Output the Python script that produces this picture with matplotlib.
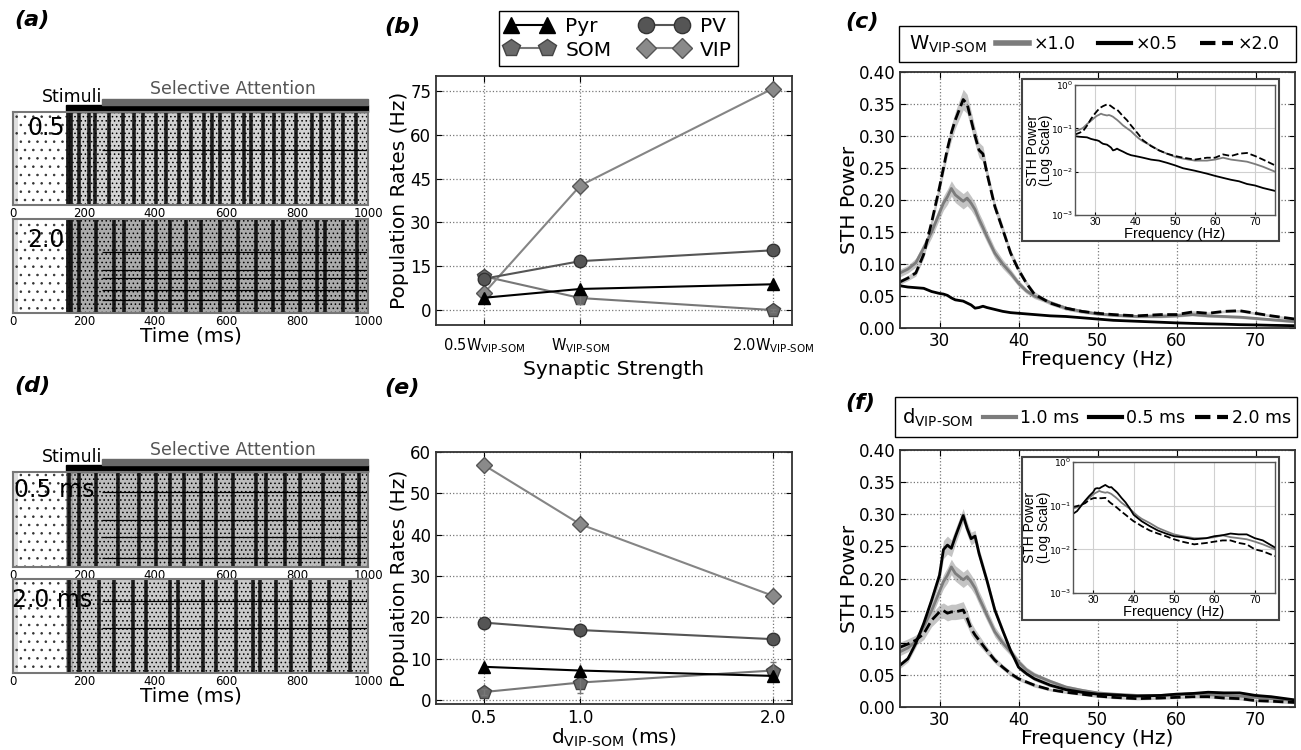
import matplotlib
matplotlib.use('Agg')
import numpy as np
import matplotlib.pyplot as plt
from matplotlib.lines import Line2D
from matplotlib.patches import Rectangle

plt.rcParams['font.family'] = ['DejaVu Sans']
plt.rcParams['mathtext.fontset'] = 'dejavusans'
plt.rcParams['hatch.linewidth'] = 0.6

W, H = 1301, 750

# ---- raster panels (a), (d): burst times (ms) and tonic rows
t_stim = 150
t_attn = 250
time_ticks = [0, 200, 400, 600, 800, 1000]
bursts_a05 = [155, 162, 185, 215, 232, 270, 309, 340, 367, 403, 431, 469, 500, 537,
              560, 582, 620, 650, 671, 704, 735, 761, 798, 841, 869, 900, 930, 965]
rows_a05 = [59]
bursts_a20 = [155, 163, 186, 233, 285, 313, 365, 403, 441, 488, 530, 582, 634, 685,
              732, 761, 808, 855, 878, 930, 970]
rows_a20 = [65, 46, 37, 24, 14]
bursts_d05 = [158, 186, 233, 295, 356, 403, 441, 483, 530, 572, 620, 685, 714, 765,
              808, 874, 930, 975]
rows_d05 = [79, 49, 32, 9]
bursts_d20 = [158, 186, 243, 285, 337, 375, 441, 464, 535, 572, 629, 676, 695, 742,
              784, 836, 890, 950]
rows_d20 = [77, 48]

# ---- population rates (b), (e)
syn_x = [0.5, 1.0, 2.0]
syn_labels = ['0.5W$_{\\mathregular{VIP\u2010SOM}}$', 'W$_{\\mathregular{VIP\u2010SOM}}$',
              '2.0W$_{\\mathregular{VIP\u2010SOM}}$']
pyr_b = [4.3, 7.3, 8.9]
pv_b = [10.8, 16.8, 20.5]
som_b = [11.6, 4.2, 0.1]
vip_b = [5.9, 42.6, 75.7]
som_err_b = [1.0, 2.0, 0.5]

delay_x = [0.5, 1.0, 2.0]
delay_labels = ['0.5', '1.0', '2.0']
pyr_e = [8.0, 7.1, 5.8]
pv_e = [18.7, 16.9, 14.7]
som_e = [1.9, 4.2, 7.1]
vip_e = [56.8, 42.5, 25.2]
som_err_e = [0.8, 2.5, 2.0]

# ---- STH power spectra (c), (f)
freqs = [25, 26, 27, 28, 29, 30, 30.5, 31, 31.5, 32,
         33, 33.5, 34, 34.5, 35, 35.5, 36, 37, 38, 39,
         40, 41, 42, 44, 46, 48, 50, 52, 55, 58,
         60, 62, 64, 66, 68, 70, 72, 75]
pow_base = [0.086, 0.092, 0.102, 0.125, 0.150, 0.180, 0.195, 0.205, 0.218, 0.208,
            0.198, 0.203, 0.195, 0.185, 0.170, 0.157, 0.143, 0.117, 0.100, 0.086,
            0.070, 0.058, 0.050, 0.040, 0.031, 0.026, 0.022, 0.020, 0.018, 0.018,
            0.019, 0.021, 0.019, 0.018, 0.017, 0.015, 0.013, 0.010]
pow_w20 = [0.072, 0.078, 0.086, 0.115, 0.165, 0.220, 0.250, 0.280, 0.305, 0.325,
           0.357, 0.350, 0.325, 0.300, 0.278, 0.272, 0.242, 0.190, 0.154, 0.117,
           0.091, 0.070, 0.053, 0.039, 0.031, 0.026, 0.023, 0.021, 0.019, 0.021,
           0.021, 0.025, 0.023, 0.026, 0.027, 0.023, 0.019, 0.014]
pow_w05 = [0.066, 0.064, 0.063, 0.062, 0.057, 0.054, 0.053, 0.051, 0.047, 0.044,
           0.042, 0.039, 0.036, 0.031, 0.032, 0.034, 0.032, 0.029, 0.026, 0.024,
           0.023, 0.022, 0.021, 0.019, 0.018, 0.016, 0.014, 0.012, 0.0105, 0.009,
           0.008, 0.0072, 0.0065, 0.006, 0.0052, 0.0048, 0.0042, 0.0036]
pow_d05 = [0.065, 0.075, 0.099, 0.130, 0.166, 0.205, 0.245, 0.252, 0.247, 0.265,
           0.298, 0.278, 0.262, 0.266, 0.239, 0.218, 0.197, 0.151, 0.119, 0.088,
           0.062, 0.052, 0.044, 0.034, 0.027, 0.023, 0.020, 0.019, 0.017, 0.018,
           0.020, 0.021, 0.023, 0.022, 0.022, 0.018, 0.016, 0.011]
pow_d20 = [0.093, 0.098, 0.104, 0.114, 0.135, 0.148, 0.150, 0.146, 0.148, 0.148,
           0.151, 0.138, 0.122, 0.112, 0.104, 0.096, 0.088, 0.073, 0.062, 0.052,
           0.044, 0.039, 0.034, 0.027, 0.023, 0.020, 0.017, 0.015, 0.013, 0.014,
           0.015, 0.016, 0.016, 0.014, 0.013, 0.010, 0.009, 0.007]
sem_base = [0.006, 0.006, 0.007, 0.008, 0.009, 0.010, 0.011, 0.012, 0.012, 0.012,
            0.012, 0.012, 0.011, 0.011, 0.010, 0.010, 0.009, 0.008, 0.007, 0.006,
            0.005, 0.004, 0.004, 0.003, 0.003, 0.003, 0.002, 0.002, 0.002, 0.002,
            0.002, 0.002, 0.002, 0.002, 0.002, 0.002, 0.002, 0.002]
sem_w20 = [0.004, 0.004, 0.005, 0.006, 0.008, 0.009, 0.010, 0.011, 0.012, 0.013,
           0.016, 0.015, 0.014, 0.013, 0.012, 0.012, 0.010, 0.008, 0.007, 0.006,
           0.005, 0.004, 0.004, 0.003, 0.003, 0.002, 0.002, 0.002, 0.002, 0.002,
           0.002, 0.002, 0.002, 0.002, 0.002, 0.002, 0.002, 0.002]
sem_d05 = [0.005, 0.005, 0.006, 0.007, 0.009, 0.012, 0.014, 0.014, 0.013, 0.012,
           0.011, 0.010, 0.010, 0.009, 0.008, 0.008, 0.007, 0.006, 0.005, 0.004,
           0.004, 0.003, 0.003, 0.003, 0.002, 0.002, 0.002, 0.002, 0.002, 0.002,
           0.002, 0.002, 0.002, 0.002, 0.002, 0.002, 0.002, 0.002]
sem_d20 = [0.008, 0.008, 0.008, 0.009, 0.010, 0.011, 0.012, 0.012, 0.012, 0.012,
           0.013, 0.012, 0.010, 0.009, 0.008, 0.007, 0.006, 0.005, 0.004, 0.004,
           0.003, 0.003, 0.003, 0.002, 0.002, 0.002, 0.002, 0.002, 0.002, 0.002,
           0.002, 0.002, 0.002, 0.002, 0.002, 0.002, 0.002, 0.002]

GREY = '#7c7c7c'
BAND = '#c4c4c4'
INSET_FONT = ['Liberation Sans', 'DejaVu Sans']


def rect(x0, y0, x1, y1):
    # pixel box (top-left origin) -> figure fraction
    return [x0 / W, 1 - y1 / H, (x1 - x0) / W, (y1 - y0) / H]


def style_spines(ax, color='#333333', lw=1.3):
    for s in ax.spines.values():
        s.set_color(color)
        s.set_linewidth(lw)


def raster(ax, bursts, rows, tag, tag_xy, shade):
    ax.set_xlim(0, 1000)
    ax.set_ylim(0, 100)
    ax.axvspan(0, 14, color='#b8b8b8', alpha=0.45, lw=0)
    ax.add_patch(Rectangle((0, 0), t_stim, 100, fc='none', ec='#333333', hatch='..', lw=0))
    ax.add_patch(Rectangle((t_stim, 0), 1000 - t_stim, 100, fc=shade, ec='k',
                           hatch='....', lw=0))
    ax.axvspan(t_stim, t_stim + 18, color='#909090', alpha=0.5, lw=0)
    ax.vlines(bursts, 0, 100, colors='k', lw=2.6, alpha=0.85)
    ax.hlines(rows, t_attn, 1000, colors='k', lw=0.9)
    ax.text(tag_xy[0], tag_xy[1], tag, transform=ax.transAxes, fontsize=17,
            ha='center', va='center', zorder=5)
    ax.set_xticks(time_ticks)
    ax.set_yticks([])
    ax.tick_params(length=0, labelsize=8.5, pad=1.5)
    style_spines(ax, '#777777', 1.5)


def stim_bars(ax, y_stim, y_attn):
    tr = ax.get_xaxis_transform()
    ax.add_patch(Rectangle((t_stim, 1.0), 1000 - t_stim, 0.075, transform=tr,
                           clip_on=False, color='k'))
    ax.add_patch(Rectangle((t_attn, 1.075), 1000 - t_attn, 0.065, transform=tr,
                           clip_on=False, color='#6a6a6a'))
    ax.text(165, y_stim, 'Stimuli', transform=tr, ha='center', va='center', fontsize=12.5)
    ax.text(620, y_attn, 'Selective Attention', transform=tr, ha='center',
            va='center', fontsize=12.5, color='#555555')


def rate_panel(ax, x, pyr, pv, som, vip, som_err):
    h_som, = ax.plot(x, som, color='#777777', marker='p', ms=10, mfc='#6a6a6a',
                     mec='#444444', lw=1.5, label='SOM')
    ax.errorbar(x, som, yerr=som_err, fmt='none', ecolor='#777777', elinewidth=1, capsize=2)
    h_vip, = ax.plot(x, vip, color='#858585', marker='D', ms=8, mfc='#8a8a8a',
                     mec='#555555', lw=1.5, label='VIP')
    h_pv, = ax.plot(x, pv, color='#555555', marker='o', ms=9, mfc='#555555',
                    mec='#333333', lw=1.5, label='PV')
    h_pyr, = ax.plot(x, pyr, color='k', marker='^', ms=9, mfc='k', mec='k',
                     lw=1.5, label='Pyr')
    ax.set_xlim(0.25, 2.1)
    ax.grid(True, ls=':', color='#777777', lw=0.9)
    ax.tick_params(direction='in', top=True, right=True, length=4, labelsize=12)
    style_spines(ax)
    return [h_pyr, h_som, h_pv, h_vip]


def spectrum_panel(ax, series):
    for y, sem, style in series:
        if sem is not None:
            ax.fill_between(freqs, np.array(y) - np.array(sem), np.array(y) + np.array(sem),
                            color=BAND, lw=0)
    for y, sem, style in series:
        ax.plot(freqs, y, **style)
    ax.set_xlim(25, 75)
    ax.set_ylim(0, 0.40)
    yt = [0.0, 0.05, 0.10, 0.15, 0.20, 0.25, 0.30, 0.35, 0.40]
    ax.set_yticks(yt)
    ax.set_yticklabels([f'{v:.2f}' for v in yt])
    ax.set_xticks([30, 40, 50, 60, 70])
    ax.grid(True, ls=':', color='#777777', lw=0.9)
    ax.tick_params(direction='in', top=True, right=True, length=4, labelsize=12, pad=3)
    ax.set_xlabel('Frequency (Hz)', fontsize=14.5, labelpad=0)
    ax.set_ylabel('STH Power', fontsize=14.5, labelpad=0)
    style_spines(ax)


def inset(frame_px, ax_px, series):
    x0, y0, x1, y1 = frame_px
    fig.add_artist(Rectangle((x0 / W, 1 - y1 / H), (x1 - x0) / W, (y1 - y0) / H,
                             transform=fig.transFigure, fc='white', ec='#444444',
                             lw=1.5, zorder=2))
    ax = fig.add_axes(rect(*ax_px), zorder=3)
    for y, sem, style in series:
        st = dict(style)
        st['lw'] = 1.3
        ax.plot(freqs, y, **st)
    ax.set_yscale('log')
    ax.set_ylim(1e-3, 1)
    ax.set_xlim(25, 75)
    ax.set_xticks([30, 40, 50, 60, 70])
    ax.minorticks_off()
    ax.grid(True, color='#d0d0d0', lw=0.8)
    ax.tick_params(direction='in', length=2, labelsize=6.5, pad=1.5)
    for lab in ax.get_xticklabels():
        lab.set_family(INSET_FONT)
        lab.set_fontsize(7.5)
    ax.set_xlabel('Frequency (Hz)', fontsize=10.5, labelpad=0, family=INSET_FONT)
    ax.set_ylabel('STH Power\n(Log Scale)', fontsize=10, linespacing=0.95,
                  family=INSET_FONT)
    ax.yaxis.set_label_coords(-0.11, 0.5)
    style_spines(ax, '#555555', 1.0)


fig = plt.figure(figsize=(W / 100, H / 100), dpi=100)

# (a)
ax_a1 = fig.add_axes(rect(13, 112, 368, 205))
raster(ax_a1, bursts_a05, rows_a05, '0.5', (0.093, 0.83), '#d2d2d2')
stim_bars(ax_a1, 1.16, 1.25)
ax_a2 = fig.add_axes(rect(13, 219, 368, 313))
raster(ax_a2, bursts_a20, rows_a20, '2.0', (0.093, 0.78), '#ababab')
ax_a2.set_xlabel('Time (ms)', fontsize=14.5, labelpad=-1)

# (d)
ax_d1 = fig.add_axes(rect(13, 472, 368, 567))
raster(ax_d1, bursts_d05, rows_d05, '0.5 ms', (0.115, 0.81), '#bcbcbc')
stim_bars(ax_d1, 1.16, 1.235)
ax_d2 = fig.add_axes(rect(13, 579, 368, 673))
raster(ax_d2, bursts_d20, rows_d20, '2.0 ms', (0.11, 0.78), '#cacaca')
ax_d2.set_xlabel('Time (ms)', fontsize=14.5, labelpad=-1)

# (b)
ax_b = fig.add_axes(rect(436, 76, 792, 325))
handles = rate_panel(ax_b, syn_x, pyr_b, pv_b, som_b, vip_b, som_err_b)
ax_b.set_ylim(-5, 80)
ax_b.set_yticks([0, 15, 30, 45, 60, 75])
ax_b.set_xticks(syn_x)
ax_b.set_xticklabels(syn_labels, fontsize=10.5)
ax_b.tick_params(axis='x', pad=8)
ax_b.set_xlabel('Synaptic Strength', fontsize=14.5, labelpad=4)
ax_b.set_ylabel('Population Rates (Hz)', fontsize=14.5, labelpad=1)
leg = fig.legend(handles=handles, ncol=2, loc='center',
                 bbox_to_anchor=(618.5 / W, 1 - 38.5 / H), fontsize=14.5, numpoints=2,
                 handlelength=2.4, markerscale=1.3, fancybox=False, edgecolor='k',
                 framealpha=1, borderpad=0.3, labelspacing=0.2, columnspacing=1.4,
                 handletextpad=0.6)
leg.get_frame().set_linewidth(1.0)

# (e)
ax_e = fig.add_axes(rect(436, 452, 792, 704))
rate_panel(ax_e, delay_x, pyr_e, pv_e, som_e, vip_e, som_err_e)
ax_e.set_ylim(-1, 60)
ax_e.set_yticks([0, 10, 20, 30, 40, 50, 60])
ax_e.set_xticks(delay_x)
ax_e.set_xticklabels(delay_labels)
ax_e.set_xlabel('d$_{\\mathregular{VIP\u2010SOM}}$ (ms)', fontsize=14.5, labelpad=0)
ax_e.set_ylabel('Population Rates (Hz)', fontsize=14.5, labelpad=1)

# (c)
st_base = dict(color=GREY, lw=2)
st_c05 = dict(color='k', lw=2)
st_c20 = dict(color='k', lw=2, ls='--')
series_c = [(pow_base, sem_base, st_base), (pow_w05, None, st_c05), (pow_w20, sem_w20, st_c20)]
ax_c = fig.add_axes(rect(900, 72, 1295, 328))
spectrum_panel(ax_c, series_c)
inset((1022, 79, 1279, 241), (1075, 85, 1275, 215), series_c)

fig.add_artist(Rectangle((899 / W, 1 - 62 / H), 397 / W, 36 / H, transform=fig.transFigure,
                         fc='white', ec='k', lw=1.0))
fig.text(909 / W, 1 - 44 / H, 'W$_{\\mathregular{VIP\u2010SOM}}$', fontsize=14, va='center')
leg_handles_c = [Line2D([], [], color=GREY, lw=4), Line2D([], [], color='k', lw=3),
                 Line2D([], [], color='k', lw=3, ls='--')]
fig.legend(leg_handles_c, ['\u00d71.0', '\u00d70.5', '\u00d72.0'], ncol=3, loc='center',
           bbox_to_anchor=(1138 / W, 1 - 44 / H), frameon=False, fontsize=12.5,
           handlelength=1.9, handletextpad=0.25, columnspacing=1.3)

# (f)
st_f10 = dict(color=GREY, lw=2)
st_f05 = dict(color='k', lw=2)
st_f20 = dict(color='k', lw=2, ls='--')
series_f = [(pow_base, sem_base, st_f10), (pow_d05, sem_d05, st_f05), (pow_d20, sem_d20, st_f20)]
ax_f = fig.add_axes(rect(900, 450, 1295, 707))
spectrum_panel(ax_f, series_f)
inset((1022, 457, 1279, 620), (1073, 462, 1275, 593), series_f)

fig.add_artist(Rectangle((895 / W, 1 - 437 / H), 402 / W, 40 / H, transform=fig.transFigure,
                         fc='white', ec='k', lw=1.0))
fig.text(902 / W, 1 - 418 / H, 'd$_{\\mathregular{VIP\u2010SOM}}$', fontsize=14, va='center')
leg_handles_f = [Line2D([], [], color=GREY, lw=3), Line2D([], [], color='k', lw=3),
                 Line2D([], [], color='k', lw=3, ls='--')]
fig.legend(leg_handles_f, ['1.0 ms', '0.5 ms', '2.0 ms'], ncol=3, loc='center',
           bbox_to_anchor=(1137 / W, 1 - 418 / H), frameon=False, fontsize=12.5,
           handlelength=1.9, handletextpad=0.2, columnspacing=0.6)

# panel tags
for tag, x, y in [('(a)', 14, 20), ('(b)', 384, 27), ('(c)', 845, 22),
                  ('(d)', 14, 386), ('(e)', 384, 388), ('(f)', 845, 403)]:
    fig.text(x / W, 1 - y / H, tag, fontsize=16, fontweight='bold', style='italic',
             va='center', ha='left')

fig.savefig('out.png', dpi=100)
